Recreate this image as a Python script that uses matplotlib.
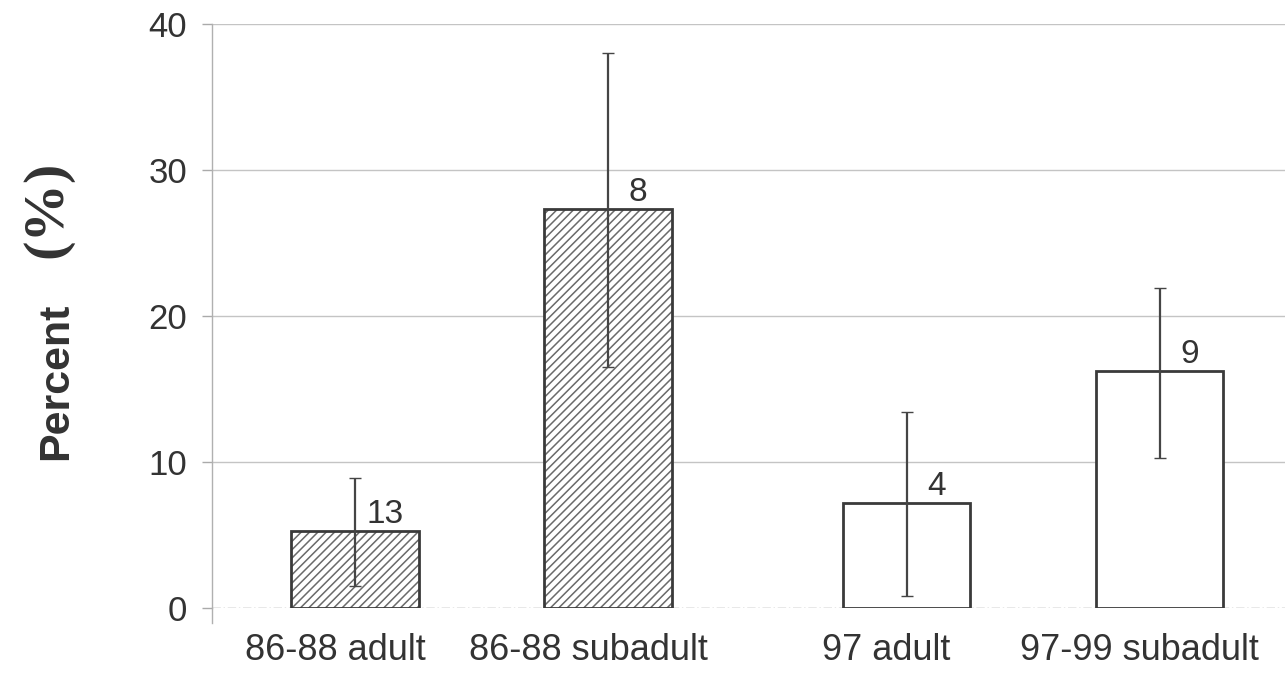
import numpy as np
import matplotlib
matplotlib.use("Agg")
import matplotlib.pyplot as plt
import matplotlib.transforms as mtransforms

categories = ["86-88 adult", "86-88 subadult", "97 adult", "97-99 subadult"]
percent = [5.3, 27.3, 7.2, 16.2]
err_low = [1.5, 16.5, 0.8, 10.3]
err_high = [8.9, 38.0, 13.4, 21.9]
sample_n = ["13", "8", "4", "9"]
hatched = [True, True, False, False]
y_ticks = [0, 10, 20, 30, 40]

plt.rcParams['font.family'] = ['Liberation Sans', 'DejaVu Sans']
plt.rcParams['hatch.linewidth'] = 1.1

fig = plt.figure(figsize=(12.85, 6.75), dpi=100)
ax = fig.add_axes([0.165, 0.0993, 0.835, 0.8651])

group_gap = 0.18
x = np.arange(len(categories)) + group_gap * (np.arange(len(categories)) >= 2)
width = 0.505
vals = np.array(percent)
lo = vals - np.array(err_low)
hi = np.array(err_high) - vals

# grid
for t in y_ticks[1:]:
    ax.axhline(t, color='#c4c4c4', lw=1.0, zorder=0)
ax.axhline(0, color='#8a8a8a', lw=1.0, ls=(0, (6, 2, 1, 2)), zorder=0)

for xi, v, h in zip(x, vals, hatched):
    if h:
        ax.bar(xi, v, width=width, color='white', edgecolor='#6a6a6a', hatch='////', lw=0, zorder=2)
    else:
        ax.bar(xi, v, width=width, color='white', lw=0, zorder=2)
ax.bar(x, vals, width=width, fill=False, edgecolor='#3a3a3a', lw=2.0, zorder=3)

ax.errorbar(x, vals, yerr=[lo, hi], fmt='none', ecolor='#454545', elinewidth=1.6,
            capsize=4, capthick=1.0, zorder=4)

for xi, v, n in zip(x, vals, sample_n):
    ax.annotate(n, (xi, v), xytext=(30, 1), textcoords='offset pixels',
                ha='center', va='bottom', fontsize=24, color='#333333', zorder=5)

ax.set_xlim(-0.565, 3.676)
ax.set_ylim(0, 40)
ax.set_yticks(y_ticks)
ax.set_yticklabels([str(t) for t in y_ticks], fontsize=25, color='#333333')
ax.set_xticks(x)
ax.set_xticklabels(categories, fontsize=26, color='#333333')
ax.tick_params(axis='x', length=0, pad=18)
ax.tick_params(axis='y', length=7, width=1, color='#aaaaaa', pad=11)
shift = mtransforms.ScaledTranslation(-20 / 100, 0, fig.dpi_scale_trans)
for lab in ax.get_xticklabels():
    lab.set_transform(lab.get_transform() + shift)
for s in ['top', 'right', 'bottom']:
    ax.spines[s].set_visible(False)
ax.spines['left'].set_color('#b0b0b0')
ax.spines['left'].set_linewidth(1.0)
ax.plot([0, 0], [0, -0.025], transform=ax.transAxes, clip_on=False, color='#b0b0b0', lw=1.0)

fig.text(0.044, 0.435, "Percent", rotation=90, ha='center', va='center',
         fontsize=31, fontweight='bold', color='#333333')
fig.text(0.037, 0.69, "(%)", rotation=90, ha='center', va='center',
         fontsize=42, fontweight='bold', color='#333333',
         family=['Liberation Serif', 'DejaVu Serif'])

fig.savefig("out.png", dpi=100, facecolor='white')
